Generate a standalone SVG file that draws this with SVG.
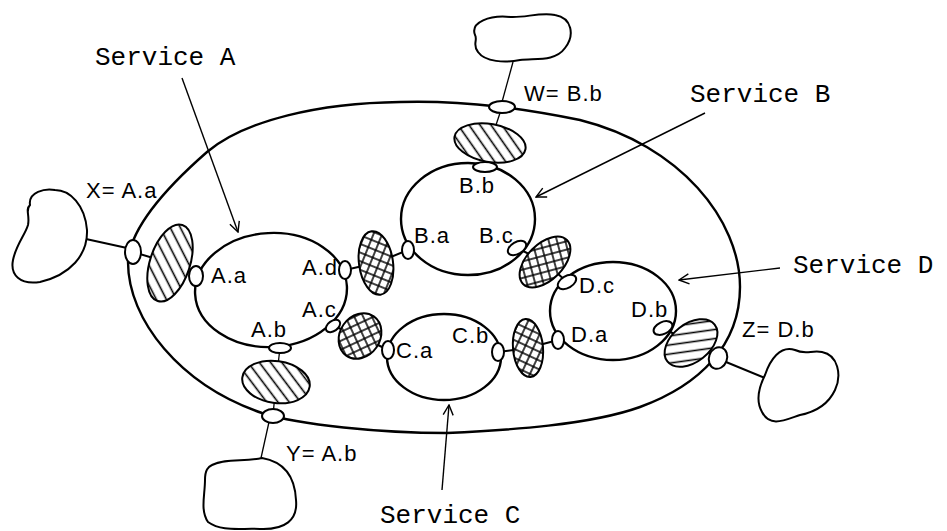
<svg xmlns="http://www.w3.org/2000/svg" width="947" height="531" viewBox="0 0 947 531">
<style>
.main{fill:none;stroke:#000;stroke-width:2.4;stroke-linejoin:round}
.svc{fill:#fff;stroke:#000;stroke-width:2.4}
.port{fill:#fff;stroke:#000;stroke-width:2}
.blob{stroke:#000;stroke-width:2}
.under{fill:#fff;stroke:none}
.cloud{fill:#fff;stroke:#000;stroke-width:2}
.link{stroke:#000;stroke-width:2;fill:none}
.thin{stroke:#000;stroke-width:1.3;fill:none}
.arrow{stroke:#000;stroke-width:1.4;fill:none;marker-end:url(#ah)}
.lbl{font-family:"Liberation Sans",Arial,sans-serif;font-size:22px;letter-spacing:1px;fill:#000}
.svcl{font-family:"Liberation Mono","Courier New",monospace;font-size:26px;fill:#000}
</style>
<defs>
<pattern id="hatch" patternUnits="userSpaceOnUse" width="9" height="9" patternTransform="rotate(-45)">
<line x1="4.5" y1="0" x2="4.5" y2="9" stroke="#000" stroke-width="1.6"/>
</pattern>
<pattern id="hatch2" patternUnits="userSpaceOnUse" width="9" height="9" patternTransform="rotate(-60)">
<line x1="4.5" y1="0" x2="4.5" y2="9" stroke="#000" stroke-width="1.6"/>
</pattern>
<pattern id="cross" patternUnits="userSpaceOnUse" width="8" height="8" patternTransform="rotate(30)">
<line x1="4" y1="0" x2="4" y2="8" stroke="#000" stroke-width="1.5"/>
<line x1="0" y1="4" x2="8" y2="4" stroke="#000" stroke-width="1.5"/>
</pattern>
<marker id="ah" markerWidth="12" markerHeight="12" refX="11" refY="6" orient="auto" markerUnits="userSpaceOnUse">
<path d="M1,1 L11,6 L1,11" fill="none" stroke="#000" stroke-width="1.4"/>
</marker>
</defs>

<g id="connectors">
<path id="outer-ring" class="main" d="M128,262 C130,225 175,180 207,152 C245,120 320,103 400,102 C470,100 530,110 580,120 C680,145 740,220 740,287 C740,345 700,385 640,407 C590,425 510,430 447,433 C380,433 300,425 262,413 C180,385 128,320 128,262 Z"/>
<line class="link" x1="86" y1="239" x2="127" y2="248"/>
<line class="thin" x1="513" y1="62" x2="502" y2="102"/>
<line class="thin" x1="269" y1="422" x2="261" y2="458"/>
<line class="link" x1="726" y1="362" x2="765" y2="378"/>
<line class="link" x1="133" y1="252" x2="170" y2="263"/>
<line class="link" x1="170" y1="263" x2="196" y2="276"/>
<line class="link" x1="345" y1="270" x2="376" y2="263"/>
<line class="link" x1="376" y1="263" x2="408" y2="250"/>
<line class="link" x1="333" y1="326" x2="360" y2="336"/>
<line class="link" x1="360" y1="336" x2="388" y2="350"/>
<line class="link" x1="517" y1="248" x2="545" y2="262"/>
<line class="link" x1="545" y1="262" x2="567" y2="282"/>
<line class="link" x1="498" y1="352" x2="528" y2="348"/>
<line class="link" x1="528" y1="348" x2="558" y2="340"/>
<line class="link" x1="663" y1="328" x2="691" y2="343"/>
<line class="link" x1="691" y1="343" x2="718" y2="358"/>
<line class="thin" x1="280" y1="348" x2="276" y2="382"/>
<line class="thin" x1="276" y1="382" x2="273" y2="416"/>
<line class="thin" x1="502" y1="107" x2="490" y2="143"/>
<line class="thin" x1="490" y1="143" x2="485" y2="167"/>
<line class="arrow" x1="182" y1="78" x2="238" y2="232"/>
<line class="arrow" x1="705" y1="113" x2="536" y2="197"/>
<line class="arrow" x1="780" y1="268" x2="679" y2="280"/>
<line class="arrow" x1="442" y1="490" x2="449" y2="405"/>
</g>

<g id="cloud-x"><path class="cloud" d="M30,205 C28,192 45,188 55,190 C70,190 85,205 87,230 C88,255 70,275 40,282 C20,285 10,275 13,260 C16,245 25,235 28,225 C30,215 25,210 30,205 Z"/></g>
<g id="cloud-w"><path class="cloud" d="M475,35 C470,22 490,15 510,17 C525,18 540,12 555,15 C572,18 575,35 565,48 C555,62 535,58 520,60 C505,63 485,62 478,52 C472,45 478,40 475,35 Z"/></g>
<g id="cloud-y"><path class="cloud" d="M212,465 C225,458 245,462 262,458 C285,462 295,478 296,500 C298,520 285,530 260,529 C240,528 222,532 208,522 C200,510 205,495 205,480 C205,470 208,467 212,465 Z"/></g>
<g id="cloud-z"><path class="cloud" d="M765,375 C770,360 780,345 795,350 C805,355 812,350 822,352 C838,355 842,375 835,390 C828,405 815,412 800,415 C785,420 770,428 762,412 C755,400 760,385 765,375 Z"/></g>

<g id="service-a">
<ellipse class="svc" cx="271" cy="290" rx="76" ry="57" transform="rotate(-3 271 290)"/>
<ellipse class="port" cx="196" cy="276" rx="7" ry="10"/>
<ellipse class="port" cx="345" cy="270" rx="6" ry="9"/>
<ellipse class="port" cx="333" cy="326" rx="8" ry="5" transform="rotate(-35 333 326)"/>
<ellipse class="port" cx="280" cy="348" rx="11" ry="5"/>
<text class="lbl" x="211" y="283">A.a</text>
<text class="lbl" x="302" y="275">A.d</text>
<text class="lbl" x="302" y="317">A.c</text>
<text class="lbl" x="251" y="337">A.b</text>
</g>

<g id="service-b">
<ellipse class="svc" cx="468" cy="219" rx="67" ry="56"/>
<ellipse class="port" cx="485" cy="167" rx="12" ry="5"/>
<ellipse class="port" cx="408" cy="250" rx="6" ry="9"/>
<ellipse class="port" cx="517" cy="248" rx="10" ry="6" transform="rotate(-30 517 248)"/>
<text class="lbl" x="459" y="193">B.b</text>
<text class="lbl" x="414" y="243">B.a</text>
<text class="lbl" x="479" y="243">B.c</text>
</g>

<g id="service-c">
<ellipse class="svc" cx="444" cy="357" rx="57" ry="43"/>
<ellipse class="port" cx="388" cy="350" rx="6" ry="9"/>
<ellipse class="port" cx="498" cy="352" rx="6" ry="9"/>
<text class="lbl" x="396" y="358">C.a</text>
<text class="lbl" x="452" y="343">C.b</text>
</g>

<g id="service-d">
<ellipse class="svc" cx="613" cy="311" rx="63" ry="49"/>
<ellipse class="port" cx="567" cy="282" rx="10" ry="6" transform="rotate(-30 567 282)"/>
<ellipse class="port" cx="558" cy="340" rx="6" ry="9"/>
<ellipse class="port" cx="663" cy="328" rx="10" ry="6" transform="rotate(-25 663 328)"/>
<text class="lbl" x="579" y="293">D.c</text>
<text class="lbl" x="631" y="317">D.b</text>
<text class="lbl" x="571" y="342">D.a</text>
</g>

<g id="ext-ports">
<ellipse class="port" cx="133" cy="252" rx="8" ry="12"/>
<ellipse class="port" cx="502" cy="107" rx="13" ry="6"/>
<ellipse class="port" cx="273" cy="416" rx="11" ry="7"/>
<ellipse class="port" cx="718" cy="358" rx="9" ry="11" transform="rotate(20 718 358)"/>
<text class="lbl" x="86" y="198">X= A.a</text>
<text class="lbl" x="524" y="101">W= B.b</text>
<text class="lbl" x="286" y="461">Y= A.b</text>
<text class="lbl" x="742" y="337">Z= D.b</text>
</g>

<g id="blob-1"><ellipse class="under" cx="170" cy="263" rx="20" ry="40" transform="rotate(18 170 263)"/><ellipse class="blob" fill="url(#hatch)" cx="170" cy="263" rx="20" ry="40" transform="rotate(18 170 263)"/></g>
<g id="blob-2"><ellipse class="under" cx="276" cy="382" rx="34" ry="21" transform="rotate(8 276 382)"/><ellipse class="blob" fill="url(#hatch)" cx="276" cy="382" rx="34" ry="21" transform="rotate(8 276 382)"/></g>
<g id="blob-3"><ellipse class="under" cx="490" cy="143" rx="36" ry="19" transform="rotate(10 490 143)"/><ellipse class="blob" fill="url(#hatch)" cx="490" cy="143" rx="36" ry="19" transform="rotate(10 490 143)"/></g>
<g id="blob-4"><ellipse class="under" cx="691" cy="343" rx="30" ry="19" transform="rotate(-38 691 343)"/><ellipse class="blob" fill="url(#hatch2)" cx="691" cy="343" rx="30" ry="19" transform="rotate(-38 691 343)"/></g>
<g id="blob-5"><ellipse class="under" cx="376" cy="263" rx="17" ry="32" transform="rotate(-8 376 263)"/><ellipse class="blob" fill="url(#cross)" cx="376" cy="263" rx="17" ry="32" transform="rotate(-8 376 263)"/></g>
<g id="blob-6"><ellipse class="under" cx="360" cy="336" rx="20" ry="24" transform="rotate(35 360 336)"/><ellipse class="blob" fill="url(#cross)" cx="360" cy="336" rx="20" ry="24" transform="rotate(35 360 336)"/></g>
<g id="blob-7"><ellipse class="under" cx="545" cy="262" rx="31" ry="18" transform="rotate(-45 545 262)"/><ellipse class="blob" fill="url(#cross)" cx="545" cy="262" rx="31" ry="18" transform="rotate(-45 545 262)"/></g>
<g id="blob-8"><ellipse class="under" cx="528" cy="348" rx="15" ry="29" transform="rotate(-5 528 348)"/><ellipse class="blob" fill="url(#cross)" cx="528" cy="348" rx="15" ry="29" transform="rotate(-5 528 348)"/></g>

<g id="service-labels">
<text class="svcl" x="95" y="65">Service A</text>
<text class="svcl" x="690" y="102">Service B</text>
<text class="svcl" x="793" y="273">Service D</text>
<text class="svcl" x="380" y="523">Service C</text>
</g>
</svg>
